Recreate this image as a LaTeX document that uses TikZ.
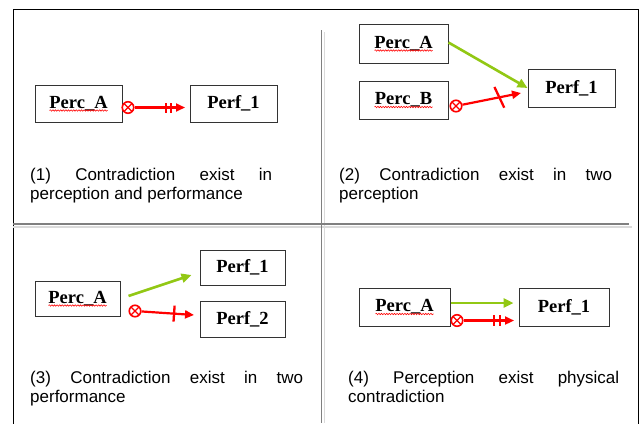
\documentclass[tikz,border=0pt]{standalone}
\usepackage{fontspec}
\setmainfont{Liberation Sans}
\newfontfamily\boxfont{Liberation Serif}
\usetikzlibrary{arrows.meta,calc,decorations.pathmorphing}
\definecolor{ygreen}{RGB}{146,200,20}
\definecolor{divdark}{RGB}{128,128,128}
\definecolor{divlight}{RGB}{218,218,218}
\begin{document}
\begin{tikzpicture}[x=1pt,y=-1pt,
  box/.style={draw=black!80, line width=1pt, fill=white, inner sep=0pt,
    font=\boxfont\bfseries\fontsize{18.5}{20}\selectfont},
  redarr/.style={draw=red, line width=2.2pt, -{Triangle[length=9pt,width=8pt]}},
  grnarr/.style={draw=ygreen, line width=2.6pt, -{Triangle[length=10pt,width=9pt]}},
  xcirc/.style={circle, draw=red, line width=1.6pt, minimum size=11.5pt, inner sep=0pt,
    path picture={\draw[red,line width=1.3pt]
      (path picture bounding box.north west) -- (path picture bounding box.south east)
      (path picture bounding box.north east) -- (path picture bounding box.south west);}},
  tickmark/.style={sloped, fill=red, draw=none, inner sep=0pt, minimum width=2.3pt},
  squig/.style={draw=red, line width=0.6pt, decorate,
    decoration={snake, amplitude=0.7pt, segment length=2.6pt}},
  captxt/.style={anchor=base west, inner sep=0pt, font=\fontsize{17}{19}\selectfont},
  divd/.style={draw=divdark, line width=1.4pt},
  divl/.style={draw=divlight, line width=1.4pt}
]
\useasboundingbox (0,0) rectangle (644,423);
\fill[white] (0,0) rectangle (644,423);

% frame and dividers
\draw[black, line width=1pt] (13,440) -- (13,9.5) -- (638,9.5) -- (638,440);
\draw[divl] (324.5,32) -- (324.5,423);
\draw[divl] (13,227) -- (632,227);
\draw[divd] (13,224) -- (629,224);
\draw[divd] (321.5,30) -- (321.5,423);

% ---------- panel 1 ----------
\node[box, minimum width=87pt, minimum height=37pt] (pA1) at (78.5,103.5) {Perc\_A};
\node[box, minimum width=87pt, minimum height=37pt] (pf1) at (233.5,103.5) {Perf\_1};
\draw[squig] ($(pA1.center)+(-29,7)$) -- ++(58,0);
\node[xcirc] (x1) at (128,107.5) {};
\coordinate (e1) at (185,107.5);
\draw[redarr] (x1) -- node[tickmark, pos=0.62, minimum height=10pt] {}
  node[tickmark, pos=0.72, minimum height=10pt] {} (e1);
\node[captxt] (t1a) at (30,180) {\makebox[242pt][s]{(1) Contradiction exist in}};
\node[captxt] (t1b) at (30,199) {perception and performance};

% ---------- panel 2 ----------
\node[box, minimum width=89pt, minimum height=39pt] (pA2) at (403.5,43.5) {Perc\_A};
\node[box, minimum width=89pt, minimum height=38pt] (pB2) at (403.5,100) {Perc\_B};
\node[box, minimum width=87pt, minimum height=38pt] (pf2) at (571.5,88) {Perf\_1};
\draw[squig] ($(pA2.center)+(-29,7)$) -- ++(58,0);
\draw[squig] ($(pB2.center)+(-29,7)$) -- ++(58,0);
\draw[grnarr] ($(pA2.east)+(0,-1)$) -- (pf2.west);
\node[xcirc] (x2) at (456,106) {};
\coordinate (e2) at (521,93);
\draw[redarr] (x2) -- node[tickmark, pos=0.63, rotate=14, minimum height=23pt] {} (e2);
\node[captxt] (t2a) at (339,180) {\makebox[273pt][s]{(2) Contradiction exist in two}};
\node[captxt] (t2b) at (339,199) {perception};

% ---------- panel 3 ----------
\node[box, minimum width=85pt, minimum height=35pt] (pA3) at (77.5,298.5) {Perc\_A};
\node[box, minimum width=85pt, minimum height=35pt] (pf31) at (242.5,267.5) {Perf\_1};
\node[box, minimum width=85pt, minimum height=36pt] (pf32) at (242.5,319) {Perf\_2};
\draw[squig] ($(pA3.center)+(-29,7)$) -- ++(58,0);
\coordinate (g3s) at ($(pA3.east)+(8,-2.5)$);
\coordinate (g3e) at ($(pf31.west)+(-8,7.5)$);
\draw[grnarr] (g3s) -- (g3e);
\node[xcirc] (x3) at (135,311) {};
\coordinate (e3) at (194,315);
\draw[redarr] (x3) -- node[tickmark, pos=0.62, minimum height=16pt] {} (e3);
\node[captxt] (t3a) at (30,383) {\makebox[273pt][s]{(3) Contradiction exist in two}};
\node[captxt] (t3b) at (30,402) {performance};

% ---------- panel 4 ----------
\node[box, minimum width=91pt, minimum height=38pt] (pA4) at (404.5,307) {Perc\_A};
\node[box, minimum width=90pt, minimum height=38pt] (pf4) at (564,307) {Perf\_1};
\draw[squig] ($(pA4.center)+(-29,7)$) -- ++(58,0);
\coordinate (g4e) at ($(pf4.west)+(-5,-4)$);
\draw[grnarr] ($(pA4.east)+(0,-4)$) -- (g4e);
\node[xcirc] (x4) at (457,320.5) {};
\coordinate (e4) at (514,320.5);
\draw[redarr] (x4) -- node[tickmark, pos=0.6, minimum height=11pt] {}
  node[tickmark, pos=0.72, minimum height=11pt] {} (e4);
\node[captxt] (t4a) at (348,383) {\makebox[271pt][s]{(4) Perception exist physical}};
\node[captxt] (t4b) at (348,402) {contradiction};
\end{tikzpicture}
\end{document}
